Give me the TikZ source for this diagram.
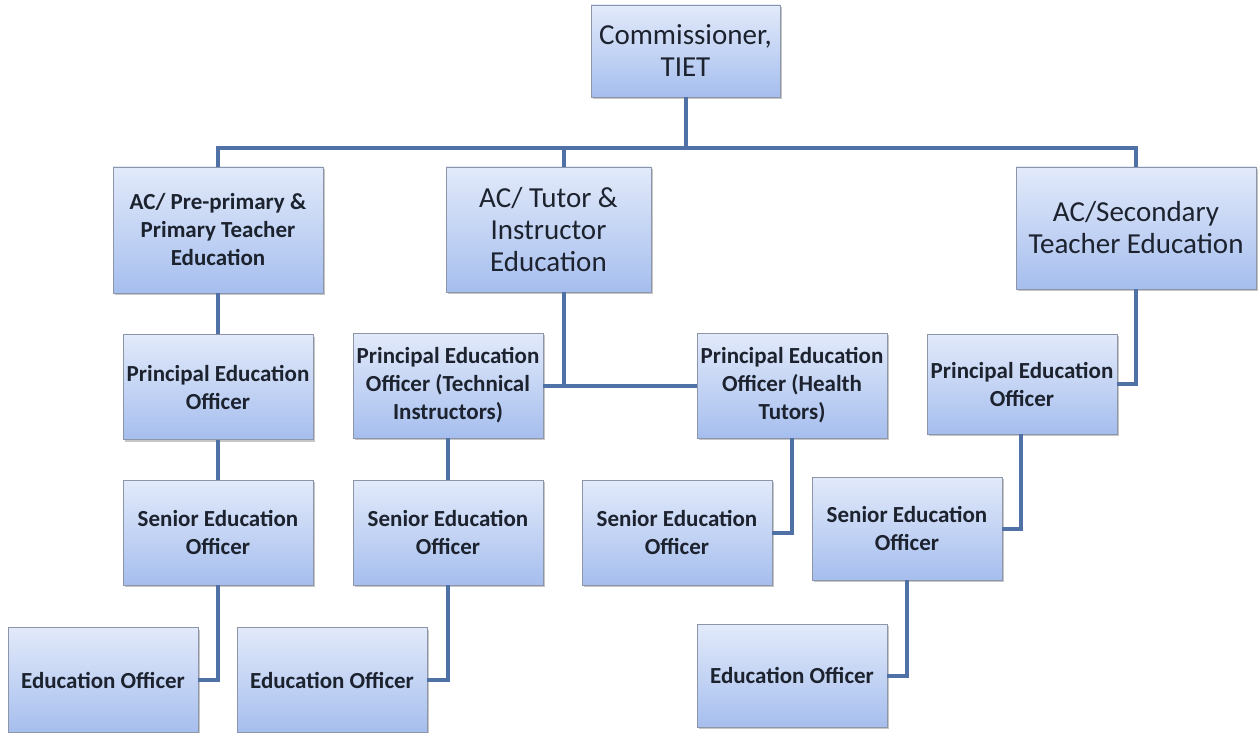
\documentclass[tikz,border=0pt]{standalone}
\usepackage{fontspec}
\setmainfont{Carlito}
\usetikzlibrary{calc,shadows}

\definecolor{boxtop}{RGB}{226,234,250}
\definecolor{boxbot}{RGB}{166,190,238}
\definecolor{boxrim}{RGB}{140,150,168}
\definecolor{linkblue}{RGB}{79,113,165}
\definecolor{ink}{RGB}{28,34,46}

\begin{document}
\begin{tikzpicture}[x=1pt,y=-1pt,
  box/.style={draw=boxrim,line width=0.8pt,top color=boxtop,bottom color=boxbot,
    text=ink,align=center,inner sep=0pt,
    drop shadow={shadow xshift=2pt,shadow yshift=-2pt,opacity=0.45}},
  big/.style={box,font=\fontsize{29}{32}\selectfont},
  small/.style={box,font=\bfseries\fontsize{23}{28}\selectfont},
  link/.style={draw=linkblue,line width=4pt}]
  \useasboundingbox (0,0) rectangle (1259,733);

  % top level
  \node[big,minimum width=189,minimum height=92] (com) at (685.5,51) {Commissioner,\\TIET};

  % assistant commissioners
  \node[small,minimum width=210,minimum height=126] (acp) at (218,230) {AC/ Pre-primary \&\\Primary Teacher\\Education};
  \node[big,minimum width=205,minimum height=125] (act) at (548.5,229.5) {AC/ Tutor \&\\Instructor\\Education};
  \node[big,minimum width=240,minimum height=122] (acs) at (1136,228) {AC/Secondary\\Teacher Education};

  % principal education officers
  \node[small,minimum width=190,minimum height=105] (peol) at (218,387) {Principal Education\\Officer};
  \node[small,minimum width=190,minimum height=105] (ptec) at (448,385.5) {Principal Education\\Officer (Technical\\Instructors)};
  \node[small,minimum width=190,minimum height=105] (phea) at (792,385.5) {Principal Education\\Officer (Health\\Tutors)};
  \node[small,minimum width=190,minimum height=100] (peor) at (1022,384) {Principal Education\\Officer};

  % senior education officers
  \node[small,minimum width=190,minimum height=105] (seol) at (218,532.5) {Senior Education\\Officer};
  \node[small,minimum width=190,minimum height=105] (setc) at (448,532.5) {Senior Education\\Officer};
  \node[small,minimum width=190,minimum height=105] (sehe) at (677,532.5) {Senior Education\\Officer};
  \node[small,minimum width=190,minimum height=103] (seor) at (907,528.5) {Senior Education\\Officer};

  % education officers
  \node[small,minimum width=190,minimum height=105] (eol) at (103,680) {Education Officer};
  \node[small,minimum width=190,minimum height=105] (eom) at (332,680) {Education Officer};
  \node[small,minimum width=190,minimum height=103] (eor) at (792,675.5) {Education Officer};

  % connectors
  \coordinate (bus) at (685.5,148);
  \coordinate (tjt) at ($(act.north)+(15,0)$);
  \coordinate (tjb) at ($(act.south)+(15,0)$);
  \draw[link] (com.south) -- (bus);
  \draw[link] (acp.north) |- (bus) -| (acs.north);
  \draw[link] (tjt |- bus) -- (tjt);
  \draw[link] (tjb) -- (tjb |- ptec.east);
  \draw[link] (ptec.east) -- (phea.west);
  \draw[link] (acp.south) -- (peol.north);
  \draw[link] (acs.south) |- (peor.east);
  \draw[link] (peol.south) -- (seol.north);
  \draw[link] (ptec.south) -- (setc.north);
  \draw[link] (phea.south) |- (sehe.east);
  \draw[link] ($(peor.south)+(-1,0)$) |- (seor.east);
  \draw[link] (seol.south) |- (eol.east);
  \draw[link] (setc.south) |- (eom.east);
  \draw[link] (seor.south) |- (eor.east);
\end{tikzpicture}
\end{document}
